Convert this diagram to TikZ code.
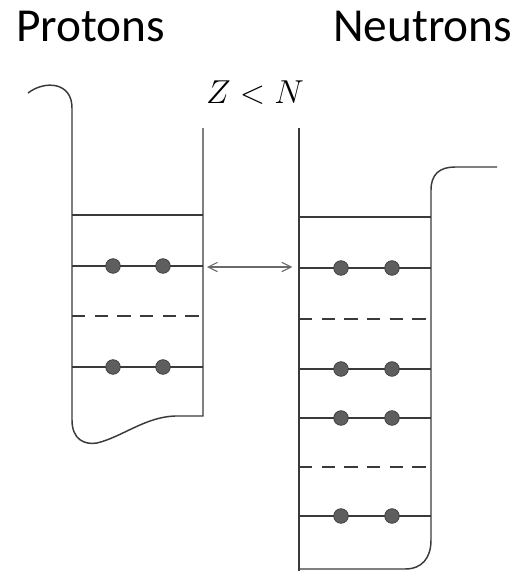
\documentclass[tikz,border=0pt]{standalone}
\usepackage{fontspec}
\usepackage{tikz}
\usetikzlibrary{arrows.meta,positioning}
\newfontfamily\labelfont{Carlito}
\definecolor{WallGray}{HTML}{3A3A3A}
\definecolor{DotGray}{HTML}{5E5E5E}
\definecolor{ArrowGray}{HTML}{6A6A6A}

\tikzset{
  wall/.style={WallGray,line width=1.1pt},
  level/.style={WallGray,line width=1pt},
  emptylevel/.style={WallGray,line width=1pt,dash pattern=on 10pt off 7pt},
  nucleon/.style={circle,fill=DotGray,draw=WallGray,line width=0.5pt,minimum size=11pt,inner sep=0pt},
  title/.style={font=\labelfont\fontsize{35.5}{40}\selectfont,inner sep=0pt,anchor=base west}
}

\begin{document}
\begin{tikzpicture}[x=0.75pt,y=-0.75pt]
    \useasboundingbox (0,0) rectangle (514,571);
    % headings
    \node[title] (protons) at (16,41) {Protons};
    \node[title] (neutrons) at (333,41) {Neutrons};
    \node[font=\fontsize{28}{30}\selectfont,inner sep=0pt,anchor=base] (zn) at (255,103) {$Z<N$};

    % proton well
    \draw[wall] (28,93) .. controls (45,80) and (72,82) .. (72,108) -- (72,420)
      .. controls (72,440) and (85,445) .. (97,443)
      .. controls (122,437) and (145,417) .. (175,416) -- (203,416) -- (203,128);
    \draw[level] (72,215) -- (203,215);
    \draw[level] (72,266) -- (203,266);
    \draw[emptylevel] (72,316) -- (203,316);
    \draw[level] (72,367) -- (203,367);
    \foreach \y/\n in {266/a,367/b} {
      \node[nucleon] (p\n1) at (113,\y) {};
      \node[nucleon] (p\n2) at (163,\y) {};
    }

    % neutron well
    \draw[wall] (299,128) -- (299,571);
    \draw[wall] (497,167) -- (455,167) .. controls (440,167) and (431,174) .. (431,190)
      -- (431,540) .. controls (431,558) and (422,569) .. (405,569) -- (299,569);
    \draw[level] (299,217) -- (431,217);
    \draw[level] (299,268) -- (431,268);
    \draw[emptylevel] (299,319) -- (431,319);
    \draw[level] (299,369) -- (431,369);
    \draw[level] (299,418) -- (431,418);
    \draw[emptylevel] (299,467) -- (431,467);
    \draw[level] (299,516) -- (431,516);
    \foreach \y/\n in {268/a,369/b,418/c,516/d} {
      \node[nucleon] (n\n1) at (341,\y) {};
      \node[nucleon] (n\n2) at (392,\y) {};
    }

    % transfer between the two wells
    \coordinate (pside) at (203,267);
    \coordinate (nside) at (299,267);
    \draw[ArrowGray,line width=0.8pt,{Straight Barb[length=7pt,width=7pt]}-{Straight Barb[length=7pt,width=7pt]},shorten <=3pt,shorten >=5pt] (pside) -- (nside);
  \end{tikzpicture}
\end{document}
